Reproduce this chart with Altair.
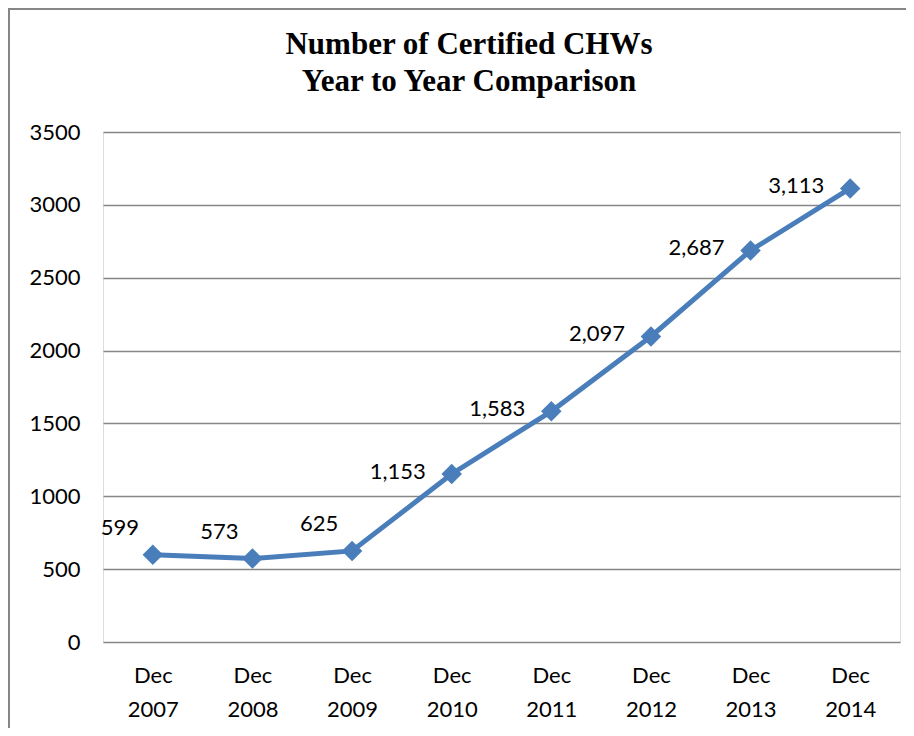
import altair as alt
import pandas as pd

categories = ["Dec 2007", "Dec 2008", "Dec 2009", "Dec 2010",
              "Dec 2011", "Dec 2012", "Dec 2013", "Dec 2014"]
values = [599, 573, 625, 1153, 1583, 2097, 2687, 3113]
labels = ["599", "573", "625", "1,153", "1,583", "2,097", "2,687", "3,113"]
y_ticks = [0, 500, 1000, 1500, 2000, 2500, 3000, 3500]
title_lines = ["Number of Certified CHWs", "Year to Year Comparison"]

df = pd.DataFrame({"cat": categories, "val": values, "lab": labels,
                   "idx": list(range(len(values)))})

BLUE = "#4A7EBB"
FONT = "Lato"
FS = 22

x_enc = alt.X("cat:N", sort=categories, title=None,
              scale=alt.Scale(type="point", padding=0.5),
              axis=alt.Axis(labelExpr="split(datum.label, ' ')",
                            labelAngle=0, labelFontSize=FS, labelFont=FONT,
                            labelColor="#000000", labelLineHeight=34,
                            labelPadding=23, ticks=False, domain=False,
                            grid=False, labelBaseline="top"))
y_enc = alt.Y("val:Q", title=None,
              scale=alt.Scale(domain=[0, 3500], nice=False),
              axis=alt.Axis(values=y_ticks, format="d", labelFontSize=FS,
                            labelFont=FONT, labelColor="#000000",
                            labelPadding=23, ticks=False, domain=False,
                            grid=True, gridColor="#868686", gridWidth=1.5))

base = alt.Chart(df)

line = base.mark_line(color=BLUE, strokeWidth=5).encode(x=x_enc, y=y_enc)
pts = base.mark_point(shape="diamond", filled=True, size=420, color=BLUE,
                      opacity=1).encode(x="cat:N", y="val:Q")

lab_low = base.transform_filter("datum.idx < 3").mark_text(
    align="center", baseline="middle", dx=-33, dy=-27, fontSize=FS,
    font=FONT, color="#000000").encode(x="cat:N", y="val:Q", text="lab:N")
lab_high = base.transform_filter("datum.idx >= 3").mark_text(
    align="right", baseline="middle", dx=-26, dy=-2, fontSize=FS,
    font=FONT, color="#000000").encode(x="cat:N", y="val:Q", text="lab:N")

tdf1 = pd.DataFrame({"t": [title_lines[0]]})
tdf2 = pd.DataFrame({"t": [title_lines[1]]})
title1 = alt.Chart(tdf1).mark_text(
    font="Liberation Serif", fontSize=31, fontWeight="bold", color="#000000",
    align="center", baseline="middle").encode(
    x=alt.value(366), y=alt.value(-87), text="t:N")
title2 = alt.Chart(tdf2).mark_text(
    font="Liberation Serif", fontSize=31, fontWeight="bold", color="#000000",
    align="center", baseline="middle").encode(
    x=alt.value(366), y=alt.value(-50), text="t:N")

frame_left = alt.Chart(pd.DataFrame({"a": [0]})).mark_rule(
    color="#868686", strokeWidth=2).encode(
    x=alt.value(-94), y=alt.value(-123), y2=alt.value(610))
frame_top = alt.Chart(pd.DataFrame({"a": [0]})).mark_rule(
    color="#868686", strokeWidth=2).encode(
    x=alt.value(-95), x2=alt.value(820), y=alt.value(-123))

chart = alt.layer(line, pts, lab_low, lab_high, title1, title2,
                  frame_left, frame_top).properties(
    width=797, height=510,
    autosize=alt.AutoSizeParams(type="none"),
    padding={"left": 95, "top": 124, "right": 6, "bottom": 86},
).configure_view(stroke=None).configure(background="white")

chart.save("out.html", embed_options={"renderer": "svg", "actions": False})
